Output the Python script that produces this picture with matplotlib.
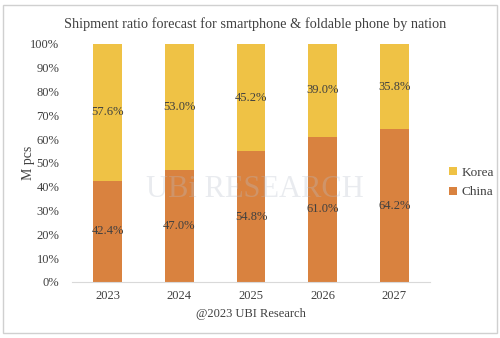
import numpy as np
import matplotlib.pyplot as plt
from matplotlib.patches import Rectangle

# Data
years = ["2023", "2024", "2025", "2026", "2027"]
china = [42.4, 47.0, 54.8, 61.0, 64.2]
korea = [57.6, 53.0, 45.2, 39.0, 35.8]

c_china = "#D9823F"
c_korea = "#EFC245"
txt = "#404040"

plt.rcParams['font.family'] = ['Liberation Serif', 'DejaVu Serif']

fig = plt.figure(figsize=(5, 3.38), dpi=100)
ax = fig.add_axes([0.144, 0.166, 0.716, 0.704])

x = np.arange(len(years))
ax.bar(x, china, width=0.4, color=c_china, label="China")
ax.bar(x, korea, width=0.4, bottom=china, color=c_korea, label="Korea")

for i in range(len(years)):
    ax.text(x[i], china[i] / 2, f"{china[i]:.1f}%", ha="center", va="center",
            fontsize=9, color=txt)
    ax.text(x[i], china[i] + korea[i] / 2, f"{korea[i]:.1f}%", ha="center",
            va="center", fontsize=9, color=txt)

ax.set_xlim(-0.5, len(years) - 0.5)
ax.set_ylim(0, 100)
ax.set_yticks(np.arange(0, 101, 10))
ax.set_yticklabels([f"{v}%" for v in range(0, 101, 10)])
ax.set_xticks(x)
ax.set_xticklabels(years)
ax.tick_params(length=0, labelsize=9, colors=txt)
ax.tick_params(axis="y", pad=9)
ax.tick_params(axis="x", pad=6)
for s in ["top", "right", "left"]:
    ax.spines[s].set_visible(False)
ax.spines["bottom"].set_color("#D9D9D9")

ax.set_ylabel("M pcs", fontsize=10, color=txt, labelpad=-3)
ax.set_xlabel("@2023 UBI Research", fontsize=9, color=txt, labelpad=4)

h, l = ax.get_legend_handles_labels()
fig.legend(h[::-1], l[::-1], loc="center left", bbox_to_anchor=(0.875, 0.46),
           frameon=False, fontsize=9.5, handlelength=0.6, handleheight=0.6,
           handletextpad=0.3, labelspacing=0.6, labelcolor=txt)

fig.suptitle("Shipment ratio forecast for smartphone & foldable phone by nation",
             x=0.51, y=0.95, fontsize=10.3, color=txt)

# faint watermark
fig.text(0.51, 0.44, "UBi RESEARCH", ha="center", va="center", fontsize=22,
         color="#B8C0CC", alpha=0.3)

fig.patches.append(Rectangle((0.006, 0.015), 0.988, 0.97, transform=fig.transFigure,
                             fill=False, edgecolor="#D0D0D0", linewidth=1))

fig.savefig("out.png", dpi=100)
